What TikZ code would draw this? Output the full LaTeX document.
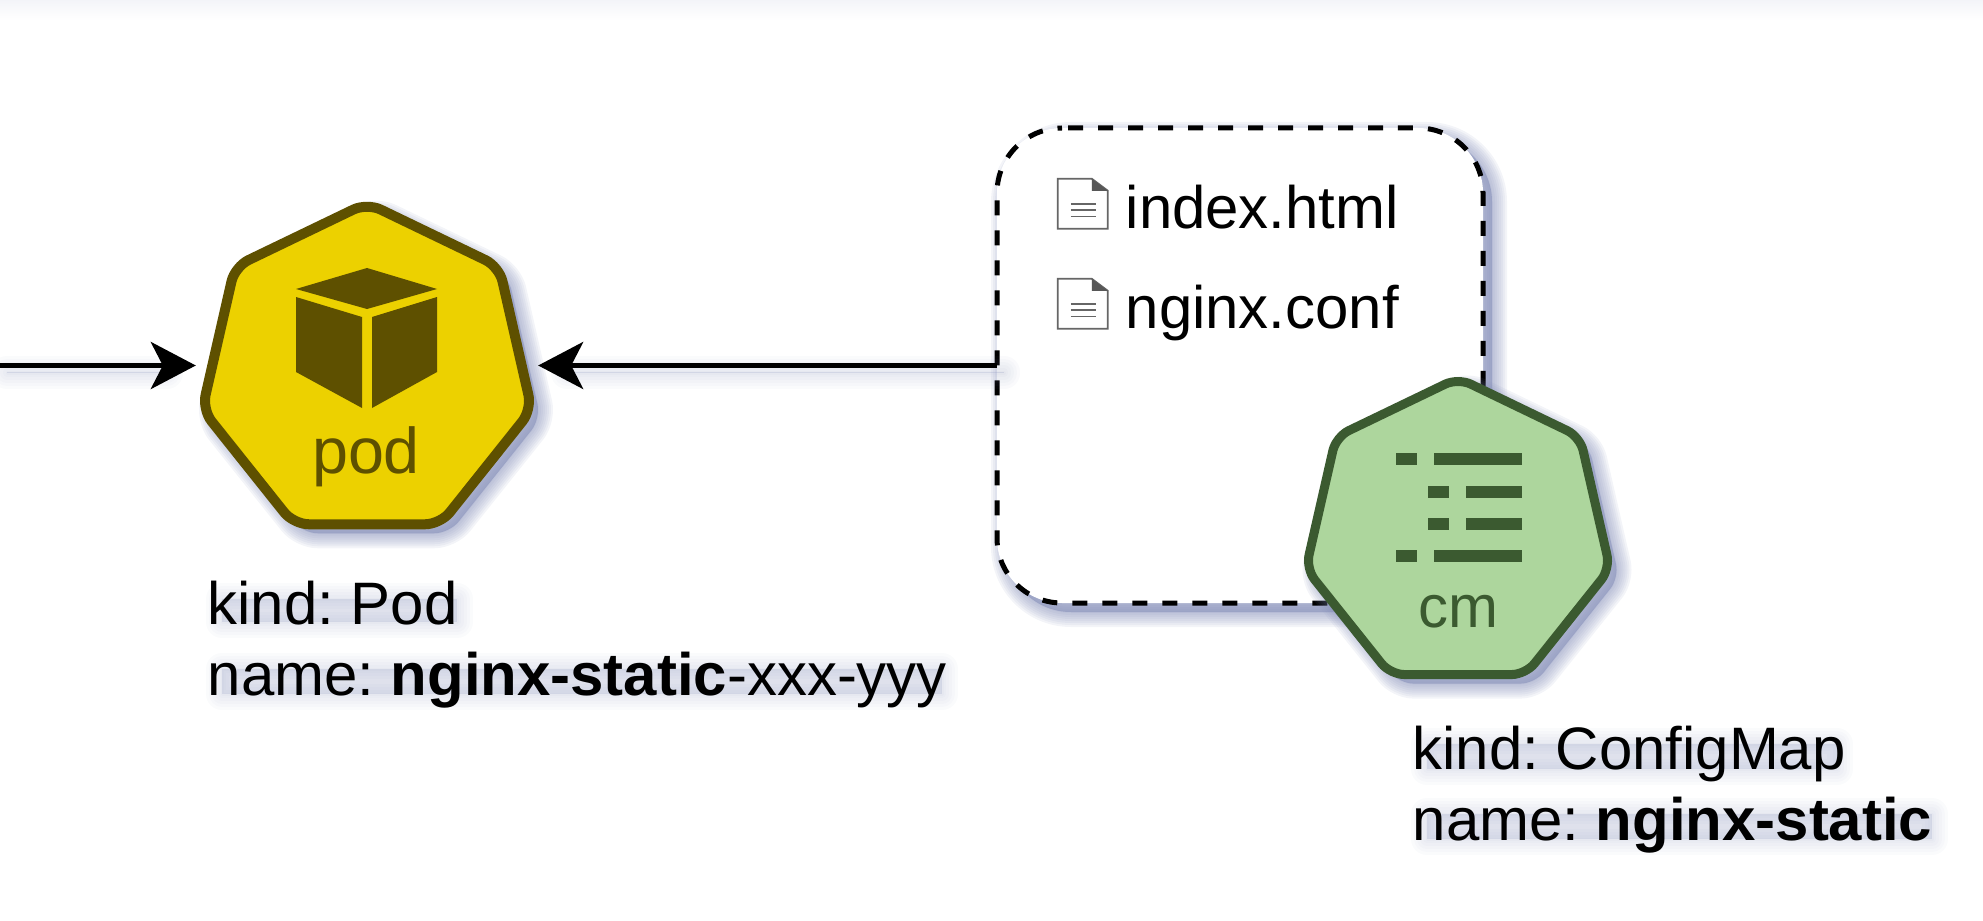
\documentclass[tikz,border=0pt]{standalone}
\usepackage{fontspec}
\setmainfont{Liberation Sans}
\usetikzlibrary{arrows.meta,shapes.geometric}
\definecolor{podfill}{HTML}{ECD100}
\definecolor{podline}{HTML}{5E5000}
\definecolor{cmfill}{HTML}{ADD69D}
\definecolor{cmline}{HTML}{3B5A30}
\definecolor{docgray}{HTML}{666666}
\definecolor{shadeblue}{HTML}{7F89B5}
\tikzset{
  softstep/.style={preaction={draw=shadeblue,fill=shadeblue,line join=round,opacity=0.09,transform canvas={shift={(0.09,-0.09)}},line width=#1}},
  softshade/.style={softstep=0.3cm,softstep=0.26cm,softstep=0.22cm,softstep=0.18cm,softstep=0.14cm,softstep=0.1cm,softstep=0.06cm,softstep=0.02cm},
  faintstep/.style={preaction={draw=shadeblue,fill=shadeblue,line join=round,opacity=0.035,transform canvas={shift={(0.07,-0.07)}},line width=#1}},
  textshade/.style={faintstep=0.32cm,faintstep=0.26cm,faintstep=0.2cm,faintstep=0.14cm,faintstep=0.08cm,faintstep=0.03cm},
  docicon/.pic={
    \draw[docgray,line width=0.018cm,fill=white] (0,0) -- (0.34,0) -- (0.5,-0.12) -- (0.5,-0.5) -- (0,-0.5) -- cycle;
    \fill[docgray!110] (0.34,0) -- (0.5,-0.12) -- (0.34,-0.12) -- cycle;
    \foreach \y in {-0.25,-0.31,-0.377}
      \draw[docgray,line width=0.016cm] (0.13,\y) -- (0.38,\y);
  },
}
\begin{document}
\begin{tikzpicture}[
  heptagon/.style={regular polygon,regular polygon sides=7,inner sep=0pt,outer sep=0pt,softshade},
  label/.style={font=\fontsize{17.05}{20.2}\selectfont\frenchspacing,inner sep=0pt},
  flow/.style={line width=0.05cm,-{Stealth[length=0.45cm,width=0.47cm,inset=0.12cm]},shorten >=0.15cm},
]
\useasboundingbox (0,0) rectangle (19.83,-9.21);
% faint band along the top edge
\fill[top color=shadeblue!9,bottom color=white,draw=none] (0,0) rectangle (19.83,-0.2);
% files box
\node[fill=white,rounded corners=0.65cm,minimum width=4.86cm,minimum height=4.75cm,inner sep=0pt,outer sep=0pt,softshade] (filebox) at (12.4,-3.655) {};
\draw[line width=0.05cm,dash pattern=on 0.15cm off 0.15cm,dash phase=0.24cm,rounded corners=0.65cm] ([xshift=0.65cm]filebox.north west) -- (filebox.north east) -- (filebox.south east) -- (filebox.south west) -- (filebox.north west) -- ([xshift=0.65cm]filebox.north west);
\pic at (10.578,-1.788) {docicon};
\pic at (10.578,-2.788) {docicon};
\node[label,anchor=base west] (indexname) at (11.25,-2.287) {index.html};
\node[label,anchor=base west] (confname) at (11.25,-3.287) {nginx.conf};
% pod
\node[heptagon,draw=podline,fill=podfill,line width=0.1cm,rounded corners=0.15cm,minimum size=3.38cm] (pod) at (3.67,-3.72) {};
\fill[podline] (2.96,-2.89) -- (3.67,-2.68) -- (4.37,-2.89) -- (3.67,-3.09) -- cycle;
\fill[podline] (2.96,-2.97) -- (3.62,-3.17) -- (3.62,-4.08) -- (2.96,-3.72) -- cycle;
\fill[podline] (3.72,-3.17) -- (4.37,-2.97) -- (4.37,-3.72) -- (3.72,-4.08) -- cycle;
\node[label,anchor=base,text=podline,font=\fontsize{18.4}{20.2}\selectfont] (podname) at (3.66,-4.73) {pod};
% configmap
\node[heptagon,draw=cmline,fill=cmfill,line width=0.09cm,rounded corners=0.14cm,minimum size=3.12cm] (cm) at (14.58,-5.34) {};
\foreach \y/\a/\b/\c/\d in {-4.533/13.96/14.173/14.34/15.217,-4.857/14.28/14.493/14.66/15.217,-5.177/14.28/14.493/14.66/15.217,-5.497/13.96/14.173/14.34/15.217} {
  \fill[cmline] (\a,\y) rectangle (\b,\y-0.12);
  \fill[cmline] (\c,\y) rectangle (\d,\y-0.12);
}
\node[label,anchor=base,text=cmline] (cmname) at (14.58,-6.27) {cm};
% shadow patches under the captions and lines
\path[textshade] (2.15,-5.92) rectangle (4.5,-6.15);
\path[textshade] (2.15,-6.62) rectangle (9.35,-6.87);
\path[textshade] (14.2,-7.37) rectangle (18.3,-7.62);
\path[textshade] (14.2,-8.07) rectangle (19.25,-8.32);
\path[textshade] (0,-3.65) rectangle (1.6,-3.66);
\path[textshade] (5.6,-3.65) rectangle (9.97,-3.66);
% connectors
\coordinate (inlet) at (0,-3.655);
\draw[flow] (inlet) -- (pod.west |- inlet);
\draw[flow] (filebox.west) -- (pod.east |- filebox.west);
% captions
\node[label,anchor=base west,align=left] (podcap) at (2.07,-6.95) {kind: Pod\\name: \textbf{nginx-static}-xxx-yyy};
\node[label,anchor=base west,align=left] (cmcap) at (14.12,-8.4) {kind: ConfigMap\\name: \textbf{nginx-static}};
\end{tikzpicture}
\end{document}
